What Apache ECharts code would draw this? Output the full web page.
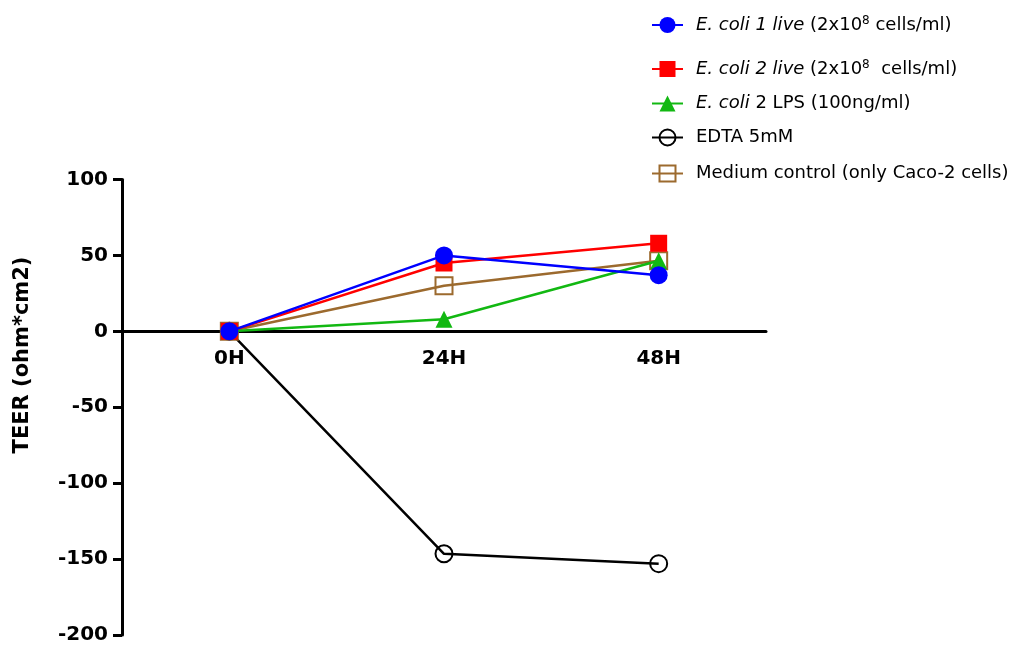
<!DOCTYPE html>
<html>
<head>
<meta charset="utf-8">
<script src="https://cdn.jsdelivr.net/npm/echarts@6/dist/echarts.min.js"></script>
<style>html,body{margin:0;padding:0;background:#fff}#c{width:1016px;height:645px}</style>
</head>
<body>
<div id="c"></div>
<script>
var categories = ['0H', '24H', '48H'];
var ecoli1Live = [0, 50, 37];
var ecoli2Live = [0, 45, 58];
var ecoli2LPS = [0, 8, 46.5];
var edta = [0, -146.5, -153];
var medium = [0, 30, 46.5];
var yTicks = [-200, -150, -100, -50, 0, 50, 100];

var seriesNames = [
  'E. coli 1 live (2x10^8 cells/ml)',
  'E. coli 2 live (2x10^8  cells/ml)',
  'E. coli 2 LPS (100ng/ml)',
  'EDTA 5mM',
  'Medium control (only Caco-2 cells)'
];
var legendLabels = {};
legendLabels[seriesNames[0]] = '{i|E. coli 1 live} (2x10{sup|8} cells/ml)';
legendLabels[seriesNames[1]] = '{i|E. coli 2 live} (2x10{sup|8}  cells/ml)';
legendLabels[seriesNames[2]] = '{i|E. coli} 2 LPS (100ng/ml)';
legendLabels[seriesNames[3]] = 'EDTA 5mM';
legendLabels[seriesNames[4]] = 'Medium control (only Caco-2 cells)';

var FONT = "'DejaVu Sans', sans-serif";
var legendTops = [15, 59, 94.5, 128.5, 164.5];

var chart = echarts.init(document.getElementById('c'), null, {renderer: 'canvas'});

var legends = seriesNames.map(function (n, i) {
  return {
    data: [n],
    left: 651,
    top: legendTops[i],
    padding: 0,
    itemWidth: 31,
    itemHeight: 20,
    selectedMode: false,
    formatter: function (name) { return legendLabels[name]; },
    textStyle: {
      fontFamily: FONT,
      fontSize: 18,
      color: '#000',
      padding: [0, 0, 0, 8],
      rich: {
        i: {fontFamily: FONT, fontSize: 18, fontStyle: 'italic', color: '#000'},
        sup: {fontFamily: FONT, fontSize: 12, color: '#000', verticalAlign: 'top', padding: [0, 0, 8, 0]}
      }
    }
  };
});

var option = {
  animation: false,
  backgroundColor: '#fff',
  legend: legends,
  grid: {left: 122, right: 250, top: 179.5, bottom: 10, containLabel: false, outerBoundsMode: 'none'},
  xAxis: {
    type: 'category',
    data: categories,
    boundaryGap: true,
    offset: -303.5,
    axisLine: {onZero: false, lineStyle: {color: '#000', width: 3}},
    axisTick: {alignWithLabel: true, length: 11, lineStyle: {color: '#000', width: 3}},
    axisLabel: {fontFamily: FONT, fontSize: 20, fontWeight: 'bold', color: '#000', margin: 17},
    splitLine: {show: false}
  },
  yAxis: {
    type: 'value',
    min: yTicks[0],
    max: yTicks[yTicks.length - 1],
    interval: 50,
    axisLine: {show: true, onZero: false, lineStyle: {color: '#000', width: 3}},
    axisTick: {show: true, length: 9, lineStyle: {color: '#000', width: 3}},
    axisLabel: {fontFamily: FONT, fontSize: 20, fontWeight: 'bold', color: '#000', margin: 14},
    splitLine: {show: false}
  },
  graphic: [{
    type: 'text',
    x: 23, y: 355,
    rotation: Math.PI / 2,
    style: {
      text: 'TEER (ohm*cm2)',
      fontFamily: FONT, fontSize: 21, fontWeight: 'bold', fill: '#000',
      align: 'center', verticalAlign: 'middle'
    }
  }],
  series: [
    {
      name: seriesNames[3], type: 'line', data: edta, z: 2,
      symbol: 'circle', symbolSize: 17,
      lineStyle: {color: '#000', width: 2.5},
      itemStyle: {color: 'rgba(255,255,255,0)', borderColor: '#000', borderWidth: 2}
    },
    {
      name: seriesNames[4], type: 'line', data: medium, z: 3,
      symbol: 'rect', symbolSize: 17,
      lineStyle: {color: '#9C6A2E', width: 2.5},
      itemStyle: {color: 'rgba(255,255,255,0)', borderColor: '#9C6A2E', borderWidth: 2}
    },
    {
      name: seriesNames[2], type: 'line', data: ecoli2LPS, z: 4,
      symbol: 'triangle', symbolSize: 17,
      lineStyle: {color: '#12B812', width: 2.5},
      itemStyle: {color: '#12B812'}
    },
    {
      name: seriesNames[1], type: 'line', data: ecoli2Live, z: 5,
      symbol: 'rect', symbolSize: 17,
      lineStyle: {color: '#FF0000', width: 2.5},
      itemStyle: {color: '#FF0000'}
    },
    {
      name: seriesNames[0], type: 'line', data: ecoli1Live, z: 6,
      symbol: 'circle', symbolSize: 18,
      lineStyle: {color: '#0000FF', width: 2.5},
      itemStyle: {color: '#0000FF'}
    }
  ]
};
chart.setOption(option);
</script>
</body>
</html>
